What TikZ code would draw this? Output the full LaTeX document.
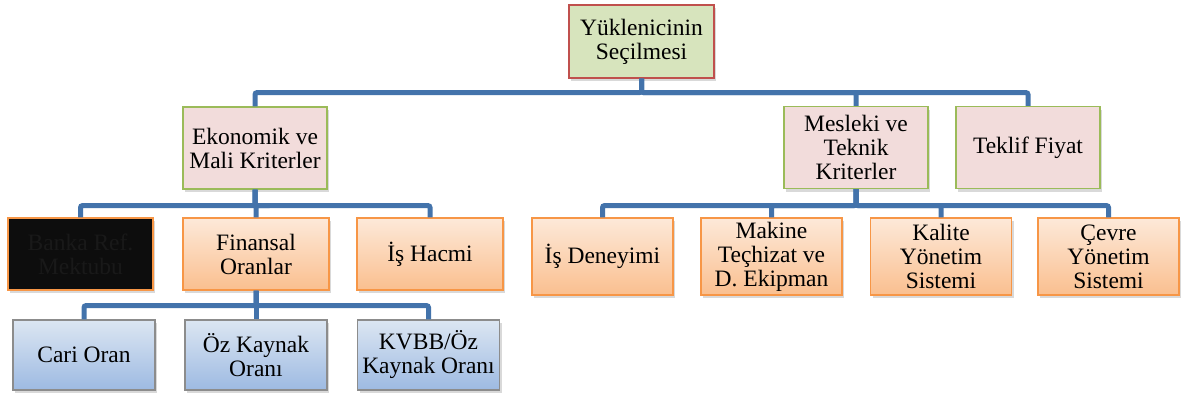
\documentclass[tikz,border=0pt]{standalone}
\usepackage{fontspec}
\setmainfont{Liberation Serif}
\usetikzlibrary{shadows}
\definecolor{linkblue}{HTML}{4373AB}
\definecolor{rootfill}{HTML}{D7E4BD}
\definecolor{rootline}{HTML}{C0504D}
\definecolor{midfill}{HTML}{F2DCDB}
\definecolor{midline}{HTML}{9BBB59}
\definecolor{orangetop}{HTML}{FDE9D9}
\definecolor{orangebot}{HTML}{FABF8F}
\definecolor{orangeline}{HTML}{F79646}
\definecolor{bluetop}{HTML}{DCE6F2}
\definecolor{bluebot}{HTML}{9DBAE2}
\definecolor{blueline}{HTML}{8C8C8C}
\begin{document}
\begin{tikzpicture}[x=1pt,y=-1pt]
	\tikzstyle{box}=[rectangle,align=center,inner sep=0pt,line width=1.2pt,font=\rmfamily\fontsize{23.5}{24}\selectfont,drop shadow={shadow xshift=2pt,shadow yshift=-3pt,opacity=0.3}]
	\tikzstyle{root}=[box,fill=rootfill,draw=rootline,minimum width=145pt,minimum height=73pt]
	\tikzstyle{crit}=[box,fill=midfill,draw=midline,minimum width=144pt,minimum height=82pt]
	\tikzstyle{sub}=[box,top color=orangetop,bottom color=orangebot,draw=orangeline]
	\tikzstyle{dark}=[box,fill=black!95,text=black!90,draw=orangeline]
	\tikzstyle{ratio}=[box,top color=bluetop,bottom color=bluebot,draw=blueline,minimum width=142pt,minimum height=70pt]
	\tikzstyle{link}=[draw=linkblue,line width=5pt,rounded corners=2pt]
	\useasboundingbox (0,0) rectangle (1184,396);
	% top and main criteria
	\node[root] (top) at (641.5,41.5) {Yüklenicinin\\Seçilmesi};
	\node[crit] (ek) at (255,148) {Ekonomik ve\\Mali Kriterler};
	\node[crit] (mes) at (856,147.5) {Mesleki ve\\Teknik\\Kriterler};
	\node[crit] (tek) at (1028,147.5) {Teklif Fiyat};
	% economic sub criteria
	\node[dark,minimum width=145pt,minimum height=72pt] (banka) at (80.5,254) {Banka Ref.\\Mektubu};
	\foreach \n/\x/\t in {fin/256/{Finansal\\Oranlar},hac/430/{İş Hacmi}}{
		\node[sub,minimum width=146pt,minimum height=72pt] (\n) at (\x,254) {\t};
	}
	% technical sub criteria
	\foreach \n/\x/\t in {isd/602.5/{İş Deneyimi},mak/771.5/{Makine\\Teçhizat ve\\D. Ekipman},kal/941/{Kalite\\Yönetim\\Sistemi},cev/1108.5/{Çevre\\Yönetim\\Sistemi}}{
		\node[sub,minimum width=141pt,minimum height=77pt] (\n) at (\x,256.5) {\t};
	}
	% financial ratios
	\foreach \n/\x/\t in {cari/84/{Cari Oran},oz/256/{Öz Kaynak\\Oranı},kvbb/428.5/{KVBB/Öz\\Kaynak Oranı}}{
		\node[ratio] (\n) at (\x,355) {\t};
	}
	% connectors
	\foreach \c in {ek,mes,tek} \draw[link] (top.south) -- ++(0,14) -| (\c.north);
	\foreach \c in {banka,fin,hac} \draw[link] (ek.south) -- ++(0,16) -| (\c.north);
	\foreach \c in {isd,mak,kal,cev} \draw[link] (mes.south) -- ++(0,16.5) -| (\c.north);
	\foreach \c in {cari,oz,kvbb} \draw[link] (fin.south) -- ++(0,15) -| (\c.north);
\end{tikzpicture}
\end{document}
